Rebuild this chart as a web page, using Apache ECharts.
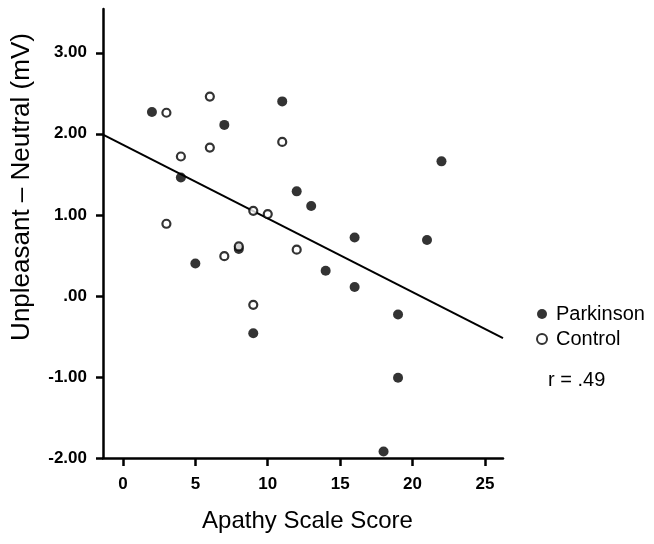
<!DOCTYPE html>
<html>
<head>
<meta charset="utf-8">
<script src="https://cdn.jsdelivr.net/npm/echarts@6/dist/echarts.min.js"></script>
<style>
  html, body { margin: 0; padding: 0; background: #fff; }
  #chart { width: 654px; height: 544px; }
</style>
</head>
<body>
<div id="chart"></div>
<script>
// Parkinson group (filled dots)
const parkX = [2, 7, 11, 4, 12, 13, 22, 16, 21, 5, 8, 14, 16, 9, 19, 19, 18]
const parkY = [2.27, 2.11, 2.40, 1.46, 1.29, 1.11, 1.66, 0.72, 0.69, 0.40, 0.58, 0.31, 0.11, -0.46, -0.23, -1.01, -1.92]

// Control group (open circles)
const ctrlX = [3, 6, 6, 4, 11, 3, 9, 10, 7, 8, 12, 9]
const ctrlY = [2.26, 2.46, 1.83, 1.72, 1.90, 0.89, 1.05, 1.01, 0.49, 0.61, 0.57, -0.11]

// fit line end points
const regX = [-1.38, 26.25]
const regY = [1.99, -0.52]

const xTicks = [0, 5, 10, 15, 20, 25]
const yTicks = [-2, -1, 0, 1, 2, 3]

const font = 'Liberation Sans, Arial, sans-serif'
const zip = (xs, ys) => xs.map((x, i) => [x, ys[i]])

const chart = echarts.init(document.getElementById('chart'))

chart.setOption({
  animation: false,
  backgroundColor: '#fff',
  grid: { left: 103, right: 151, top: 9, bottom: 86 },
  legend: {
    data: ['Parkinson', 'Control'],
    orient: 'vertical',
    left: 536,
    top: 304,
    padding: 0,
    itemWidth: 10,
    itemHeight: 10,
    itemGap: 5,
    icon: 'circle',
    textStyle: { fontFamily: font, fontSize: 20, color: '#000', padding: [0, 0, 0, 4] }
  },
  xAxis: {
    type: 'value',
    min: -1.38,
    max: 26.25,
    name: 'Apathy Scale Score',
    nameLocation: 'middle',
    nameGap: 51,
    nameTextStyle: { fontFamily: font, fontSize: 24, color: '#000', padding: [0, 0, 0, 9] },
    axisLine: { onZero: false, lineStyle: { color: '#000', width: 2.5 } },
    axisTick: { customValues: xTicks, length: 8, lineStyle: { color: '#000', width: 2.5 } },
    axisLabel: {
      customValues: xTicks,
      margin: 18,
      fontFamily: font, fontSize: 17, fontWeight: 'bold', color: '#000'
    },
    splitLine: { show: false }
  },
  yAxis: {
    type: 'value',
    min: -2,
    max: 3.54,
    axisLine: { onZero: false, lineStyle: { color: '#000', width: 2.5 } },
    axisTick: { customValues: yTicks, length: 7, lineStyle: { color: '#000', width: 2.5 } },
    axisLabel: {
      customValues: yTicks,
      margin: 16,
      fontFamily: font, fontSize: 17, fontWeight: 'bold', color: '#000',
      formatter: v => v === 0 ? '.00' : v.toFixed(2)
    },
    splitLine: { show: false }
  },
  graphic: [
    {
      type: 'text',
      x: 22,
      y: 187,
      rotation: Math.PI / 2,
      style: {
        text: 'Unpleasant – Neutral (mV)',
        fontFamily: font, fontSize: 26, fill: '#000',
        textAlign: 'center', textVerticalAlign: 'middle'
      }
    },
    {
      type: 'text',
      x: 548,
      y: 380,
      style: {
        text: 'r = .49',
        fontFamily: font, fontSize: 20, fill: '#000',
        textAlign: 'left', textVerticalAlign: 'middle'
      }
    }
  ],
  series: [
    {
      name: 'fit',
      type: 'line',
      data: zip(regX, regY),
      symbol: 'none',
      lineStyle: { color: '#000', width: 2 },
      z: 1
    },
    {
      name: 'Parkinson',
      type: 'scatter',
      data: zip(parkX, parkY),
      symbol: 'circle',
      symbolSize: 10,
      itemStyle: { color: '#000' },
      z: 2
    },
    {
      name: 'Control',
      type: 'scatter',
      data: zip(ctrlX, ctrlY),
      symbol: 'circle',
      symbolSize: 8,
      itemStyle: { color: '#fff', borderColor: '#000', borderWidth: 2.2 },
      z: 3
    }
  ]
})
</script>
</body>
</html>
